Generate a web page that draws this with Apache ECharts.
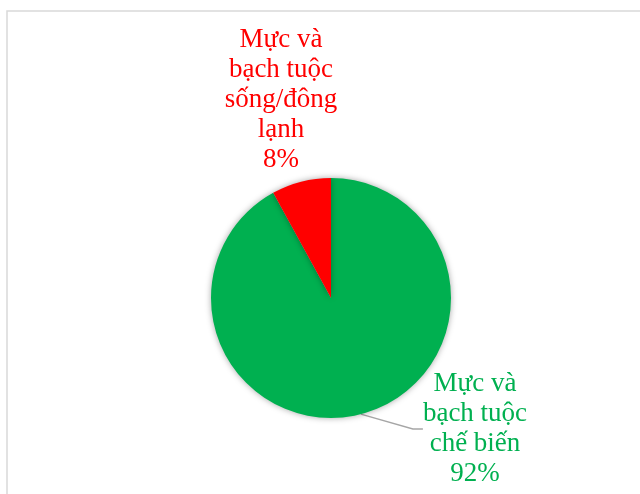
<!DOCTYPE html>
<html>
<head>
<meta charset="utf-8">
<script src="https://cdn.jsdelivr.net/npm/echarts@6/dist/echarts.min.js"></script>
<style>
  html, body { margin: 0; padding: 0; background: #fff; }
  #chart { width: 640px; height: 494px; }
</style>
</head>
<body>
<div id="chart"></div>
<script>
// Category names and their shares (%)
const categories = ['Mực và\nbạch tuộc\nchế biến', 'Mực và\nbạch tuộc\nsống/đông\nlạnh'];
const shares = [92, 8];
const colors = ['#00B050', '#FF0000'];
// Label anchor points (centre of each text block)
const labelSpots = [[475, 429], [281, 100]];

const chart = echarts.init(document.getElementById('chart'), null, { renderer: 'canvas' });

chart.setOption({
  backgroundColor: '#ffffff',
  animation: false,
  graphic: [{
    type: 'rect',
    shape: { x: 7, y: 11, width: 700, height: 600 },
    style: { fill: 'none', stroke: '#d9d9d9', lineWidth: 1.5 },
    silent: true
  }],
  series: [{
    type: 'pie',
    center: [331, 298],
    radius: [0, 120],
    startAngle: 90,
    clockwise: true,
    itemStyle: {
      shadowBlur: 6,
      shadowColor: 'rgba(0,0,0,0.35)'
    },
    label: {
      show: true,
      fontFamily: '"Liberation Serif", "Times New Roman", serif',
      fontSize: 27,
      lineHeight: 30,
      align: 'center',
      formatter: p => p.name + '\n' + p.value + '%'
    },
    labelLine: {
      show: true,
      length: 8,
      length2: 10,
      lineStyle: { color: '#A6A6A6', width: 1.3 }
    },
    labelLayout: p => ({
      x: labelSpots[p.dataIndex][0],
      y: labelSpots[p.dataIndex][1],
      align: 'center',
      verticalAlign: 'middle'
    }),
    data: categories.map((name, i) => ({
      name: name,
      value: shares[i],
      itemStyle: { color: colors[i] },
      label: { color: colors[i] },
      labelLine: { show: i === 0 }
    }))
  }]
});
</script>
</body>
</html>
